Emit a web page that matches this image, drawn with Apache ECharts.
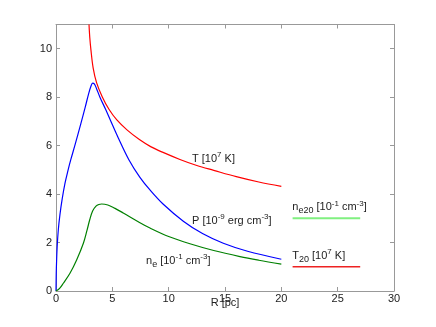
<!DOCTYPE html>
<html>
<head>
<meta charset="utf-8">
<script src="https://cdn.jsdelivr.net/npm/echarts@6/dist/echarts.min.js"></script>
<style>
html,body{margin:0;padding:0;background:#fff;}
#main{width:436px;height:327px;}
</style>
</head>
<body>
<div id="main"></div>
<script>
// T [10^7 K]
var rT = [2.93, 3.0, 3.1, 3.3, 3.6, 4.1, 4.7, 5.4, 6.3, 7.4, 8.4, 9.5, 11, 12.5, 14, 16, 18, 20];
var vT = [11.0, 10.45, 9.95, 9.2, 8.6, 8.02, 7.5, 7.06, 6.65, 6.25, 5.96, 5.72, 5.43, 5.18, 4.98, 4.72, 4.5, 4.32];
// P [10^-9 erg cm^-3]
var rP = [0, 0.02, 0.05, 0.1, 0.2, 0.35, 0.55, 0.8, 1.05, 1.3, 1.7, 2.2, 2.6, 2.9, 3.1, 3.25, 3.4, 3.6, 3.9, 4.4, 4.8, 5.5, 6.48, 7.45, 8.34, 9.5, 11.3, 13, 14.85, 17, 20];
var vP = [0, 0.7, 1.2, 1.8, 2.5, 3.15, 3.8, 4.45, 4.95, 5.4, 6.05, 6.9, 7.6, 8.15, 8.45, 8.58, 8.55, 8.35, 8.0, 7.5, 7.08, 6.35, 5.41, 4.69, 4.17, 3.59, 2.88, 2.37, 1.97, 1.64, 1.31];
// ne [10^-1 cm^-3]
var rN = [0, 0.3, 0.65, 1.24, 1.83, 2.43, 2.75, 3.0, 3.25, 3.55, 3.8, 4.05, 4.6, 5.2, 5.97, 7.45, 8.34, 10, 11.89, 14, 16.33, 18, 20];
var vN = [0, 0.1, 0.32, 0.73, 1.28, 1.97, 2.5, 2.95, 3.3, 3.5, 3.57, 3.59, 3.55, 3.42, 3.22, 2.82, 2.6, 2.25, 1.95, 1.67, 1.42, 1.27, 1.11];
// reference levels ne20, T20
var rRef = [21, 27];
var vNe20 = [3, 3];
var vT20 = [1, 1];

// curve labels: [R, y, text]
var labels = [
	[12.07, 5.45, 'T [10{sup|7} K]'],
	[12.07, 2.90, 'P [10{sup|-9} erg cm{sup|-3}]'],
	[7.99, 1.25, 'n{sub|e} [10{sup|-1} cm{sup|-3}]'],
	[20.97, 3.45, 'n{sub|e20} [10{sup|-1} cm{sup|-3}]'],
	[20.97, 1.44, 'T{sub|20} [10{sup|7} K]']
];

function pairs(xs, ys){
	var out = [];
	for(var i=0;i<xs.length;i++){
		out.push([xs[i], ys[i]]);
	}
	return out;
}

var axisColor = '#999';
var font = 'Liberation Sans';

function boxAxis(pos, max, interval){
	return {
		type:'value',
		position:pos,
		min:0,
		max:max,
		interval:interval,
		axisLine:{show:true, onZero:false, lineStyle:{color:axisColor}},
		axisTick:{show:true, inside:true, length:4, lineStyle:{color:axisColor}},
		axisLabel:{show:false},
		splitLine:{show:false}
	};
}

var chart = echarts.init(document.getElementById('main'));
var option = {
	animation:false,
	grid:{
		left:56,
		right:42,
		top:24.5,
		bottom:36
	},
	xAxis:[{
		type:'value',
		position:'bottom',
		min:0,
		max:30,
		interval:5,
		axisLine:{show:true, onZero:false, lineStyle:{color:axisColor}},
		axisTick:{inside:true, length:4, lineStyle:{color:axisColor}},
		splitLine:{show:false},
		axisLabel:{color:'#222', fontSize:11, fontFamily:font, margin:2},
		name:'R [pc]',
		nameLocation:'middle',
		nameGap:6,
		nameMoveOverlap:false,
		nameTextStyle:{color:'#222', fontSize:11, fontFamily:font}
	}, boxAxis('top', 30, 5)],
	yAxis:[{
		type:'value',
		position:'left',
		min:0,
		max:11,
		interval:2,
		axisLine:{show:true, onZero:false, lineStyle:{color:axisColor}},
		axisTick:{show:true, inside:true, length:4, lineStyle:{color:axisColor}},
		splitLine:{show:false},
		axisLabel:{
			color:'#222', fontSize:11, fontFamily:font, margin:4,
			showMaxLabel:false
		}
	}, boxAxis('right', 11, 2)],
	series:[{
		name:'T',
		type:'line',
		smooth:0.35,
		showSymbol:false,
		lineStyle:{color:'#ff0000', width:1.2},
		data:pairs(rT, vT)
	},{
		name:'P',
		type:'line',
		smooth:0.35,
		showSymbol:false,
		lineStyle:{color:'#0000ff', width:1.2},
		data:pairs(rP, vP)
	},{
		name:'ne',
		type:'line',
		smooth:0.35,
		showSymbol:false,
		lineStyle:{color:'#008000', width:1.2},
		data:pairs(rN, vN)
	},{
		name:'ne20',
		type:'line',
		showSymbol:false,
		lineStyle:{color:'#80f080', width:2},
		data:pairs(rRef, vNe20)
	},{
		name:'T20',
		type:'line',
		showSymbol:false,
		lineStyle:{color:'#ee2222', width:1.3},
		data:pairs(rRef, vT20)
	}]
};
chart.setOption(option);

var rich = {
	sup:{fontSize:8, fontFamily:font, fill:'#222', color:'#222', verticalAlign:'top', lineHeight:8},
	sub:{fontSize:9, fontFamily:font, fill:'#222', color:'#222', verticalAlign:'bottom', lineHeight:9}
};
var graphics = [];
for(var i=0;i<labels.length;i++){
	var p = chart.convertToPixel({gridIndex:0}, [labels[i][0], labels[i][1]]);
	graphics.push({
		type:'text',
		x:p[0],
		y:p[1],
		style:{
			text:labels[i][2],
			fill:'#222',
			fontSize:11,
			fontFamily:font,
			lineHeight:16,
			verticalAlign:'middle',
			align:'left',
			rich:rich
		}
	});
}
chart.setOption({graphic:graphics});
</script>
</body>
</html>
